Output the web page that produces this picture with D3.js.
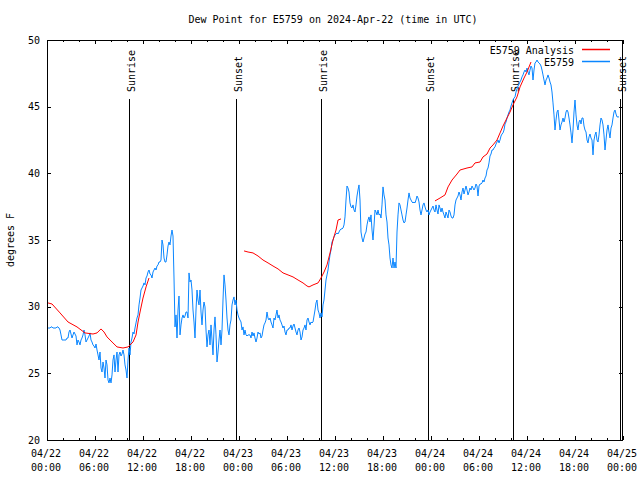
<!DOCTYPE html>
<html><head><meta charset="utf-8">
<script src="https://cdn.jsdelivr.net/npm/d3@7"></script>
<style>
body{margin:0;background:#fff}
svg text{font-family:"DejaVu Sans Mono","Liberation Mono",monospace;font-size:10px;fill:#000}
</style>
</head><body><svg id="c" width="640" height="480"></svg>
<script>
const titleText = "Dew Point for E5759 on 2024-Apr-22 (time in UTC)";
const yLabelText = "degrees F";
const seriesNames = ["E5759 Analysis", "E5759"];
const seriesColors = ["#ff0000", "#0a86ff"];
const yTickValues = [20, 25, 30, 35, 40, 45, 50];
const xTickHours = [0, 6, 12, 18, 24, 30, 36, 42, 48, 54, 60, 66, 72];
const xTickDates = ["04/22","04/22","04/22","04/22","04/23","04/23","04/23","04/23","04/24","04/24","04/24","04/24","04/25"];
const xTickTimes = ["00:00","06:00","12:00","18:00","00:00","06:00","12:00","18:00","00:00","06:00","12:00","18:00","00:00"];
const sunLabels = ["Sunrise","Sunset","Sunrise","Sunset","Sunrise","Sunset"];
const sunHours = [10.27, 23.63, 34.25, 47.63, 58.2, 71.63];

// observations: every 7.5 minutes starting 00:07:30 UTC
const obsFirstHour = 0.125, obsStepHours = 0.125;
const obsValues = [
28.4,28.4,28.4,28.48,28.48,28.4,28.4,28.4,28.4,28.48,
28.48,28.4,28.25,27.88,27.5,27.5,27.5,27.5,27.5,27.65,
27.65,28.1,28.25,27.95,27.65,27.88,28.1,27.95,27.8,27.13,
27.5,27.35,27.13,27.5,27.65,27.88,28.25,27.88,27.35,27.5,
27.65,27.8,28.03,27.5,27.35,27.13,27.05,26.9,27.2,26.75,
26.38,26.0,26.6,25.4,25.1,25.85,25.4,24.65,26.0,25.63,
24.5,24.28,24.65,24.28,24.88,26.0,26.38,25.1,26.0,26.6,
25.1,26.38,26.6,26.3,26.45,26.75,26.38,25.63,25.25,24.65,
26.0,26.9,26.38,27.35,27.65,28.1,27.95,28.4,28.78,29.15,
29.38,30.13,30.65,31.25,31.4,31.55,31.78,31.63,32.15,32.3,
32.6,32.75,32.45,32.38,32.15,32.6,32.75,32.9,32.75,33.05,
33.13,33.35,33.35,33.5,35.0,34.63,33.65,33.35,33.35,33.88,
34.55,34.85,34.63,35.3,35.75,35.3,32.15,28.48,29.38,27.65,
29.75,30.8,27.88,28.63,29.15,29.38,29.15,29.3,29.6,29.6,
29.15,32.53,31.85,32.0,31.25,29.75,28.85,27.65,29.75,31.25,
30.5,30.13,31.25,29.6,28.63,29.75,30.35,29.98,28.25,26.98,
27.88,28.25,27.13,28.63,27.5,26.38,28.25,29.23,27.88,25.85,
26.6,27.5,28.25,27.13,28.25,30.5,32.38,31.63,30.5,29.15,
28.25,27.88,28.63,29.0,30.13,30.5,30.73,30.13,30.5,29.75,
29.38,29.15,29.0,28.85,28.25,28.48,27.88,28.25,27.88,27.8,
27.88,27.88,27.88,27.65,28.1,27.8,28.03,27.65,27.35,27.65,
28.1,27.95,28.03,27.65,27.8,28.25,28.63,28.78,29.0,29.6,
29.15,29.0,29.15,28.85,28.63,28.4,29.15,29.0,29.38,29.75,
29.15,29.38,29.0,28.85,28.63,28.4,28.55,28.1,27.88,28.25,
28.25,28.4,28.4,28.63,28.25,28.55,28.7,28.4,28.1,27.88,
28.25,28.4,28.1,27.5,27.73,28.25,28.4,28.63,28.25,29.0,
29.15,28.85,28.63,28.85,28.78,28.85,29.3,29.75,30.28,30.5,
29.75,29.53,29.15,29.53,29.23,30.13,30.5,31.25,32.0,32.38,
32.75,33.35,33.88,34.25,34.85,35.0,35.23,35.38,35.45,35.53,
35.45,35.6,35.75,35.83,35.83,35.9,36.13,36.73,38.0,39.05,
38.9,38.6,37.78,37.48,37.4,37.63,37.25,37.1,37.63,38.3,
38.75,39.13,38.0,35.6,35.15,34.85,35.15,35.45,35.6,36.13,
36.5,36.73,36.35,36.88,35.75,35.0,36.05,37.25,37.1,36.88,
37.25,36.88,36.95,36.65,37.63,38.98,38.38,38.0,36.88,36.35,
35.15,34.63,33.65,33.13,32.9,33.65,32.9,33.35,32.9,35.6,
36.88,37.78,37.63,37.25,36.88,36.5,36.28,36.35,36.88,37.4,
38.0,38.53,38.15,38.0,37.85,37.78,37.85,37.78,38.0,38.3,
38.15,37.85,37.25,36.88,37.25,37.63,37.78,37.48,37.25,37.1,
37.25,36.88,37.1,37.25,37.4,37.55,37.25,37.1,37.63,37.25,
36.95,37.63,37.4,37.1,37.4,37.1,36.88,36.65,37.1,36.88,
36.65,37.25,37.1,36.8,36.65,36.65,36.88,37.63,38.0,38.15,
38.3,38.6,38.38,38.0,38.6,38.9,38.45,38.75,39.05,38.75,
38.38,38.6,38.9,38.75,39.05,38.9,38.75,38.9,39.2,39.05,
38.3,39.05,39.2,39.2,39.28,39.5,39.35,39.65,39.8,40.25,
40.4,40.78,41.3,41.45,41.75,41.75,41.9,41.98,42.2,42.35,
42.5,42.28,42.5,42.8,42.95,43.03,43.25,43.7,43.85,44.15,
44.38,44.6,44.75,45.05,45.28,45.5,45.65,45.73,46.1,46.33,
46.55,46.7,46.85,47.0,47.23,47.38,47.6,47.75,47.6,47.9,
47.6,47.38,47.75,48.05,47.9,47.0,47.75,48.28,48.35,48.5,
48.35,48.28,48.2,48.05,47.75,47.38,47.0,46.63,47.0,47.15,
47.38,47.15,46.85,46.63,46.1,45.28,44.38,43.25,44.0,44.6,
44.75,44.0,43.25,43.63,43.85,44.15,43.85,44.15,44.6,44.75,
44.6,44.15,43.63,43.03,42.28,43.25,44.6,45.5,44.38,43.63,
43.25,43.85,44.0,43.7,44.15,44.15,43.55,43.25,43.1,42.5,
42.28,42.73,42.95,42.65,42.5,41.38,42.5,42.88,43.1,42.5,
42.35,42.88,43.63,44.15,44.0,43.63,42.88,41.75,42.5,43.25,
43.63,43.1,42.65,43.4,43.63,44.15,44.6,44.75,44.45,44.23,
44.23,44.23
];

// analysis (null = gap)
const analysisHours = [
0.13,0.63,1.63,2.63,3.75,4.75,5.75,6.25,6.75,7.13,7.5,8.13,8.75,9.5,10.13,10.75,11.13,11.38,11.63,12.0,12.38,12.75,
null,
24.63,25.13,25.75,26.38,27.0,27.63,28.25,28.88,29.5,30.13,30.75,31.38,32.0,32.5,32.75,33.25,33.88,34.25,34.63,35.0,35.38,35.75,36.13,36.38,36.75,
null,
48.5,49.13,49.75,50.13,50.63,51.25,51.63,52.5,53.13,53.5,54.13,54.5,55.0,55.38,55.75,56.25,56.63,57.0,57.5,57.88,58.25,58.75,59.13,59.63,60.0,60.5
];
const analysisValues = [
30.28,30.2,29.53,28.85,28.48,28.03,27.95,28.03,28.33,28.1,27.73,27.35,26.98,26.9,26.98,27.35,27.88,28.85,29.6,30.65,31.48,32.15,
null,
34.18,34.1,34.03,33.8,33.5,33.28,33.05,32.83,32.53,32.38,32.23,32.0,31.78,31.55,31.48,31.63,31.78,32.15,32.6,33.13,34.03,35.0,35.75,36.5,36.58,
null,
37.93,38.15,38.38,38.98,39.5,39.95,40.25,40.4,40.48,40.78,40.85,41.23,41.45,41.9,42.13,42.5,43.03,43.55,44.15,44.6,45.13,45.73,46.48,47.15,47.6,48.35
];

const L = 47, R = 623, T = 40, B = 440;
const svg = d3.select("#c");
const x = d3.scaleLinear().domain([0, 72]).range([L, R]);
const y = d3.scaleLinear().domain([20, 50]).range([B, T]);

const minorHours = d3.range(0, 73, 2).filter(h => h % 6 !== 0);

// axes with inward ticks
svg.append("g").attr("transform", `translate(0,${B})`)
  .call(d3.axisBottom(x).tickValues(xTickHours).tickSizeInner(-4).tickSizeOuter(0).tickFormat(""));
svg.append("g").attr("transform", `translate(0,${B})`)
  .call(d3.axisBottom(x).tickValues(minorHours).tickSizeInner(-2).tickSizeOuter(0).tickFormat(""));
svg.append("g").attr("transform", `translate(0,${T})`)
  .call(d3.axisTop(x).tickValues(xTickHours).tickSizeInner(-4).tickSizeOuter(0).tickFormat(""));
svg.append("g").attr("transform", `translate(0,${T})`)
  .call(d3.axisTop(x).tickValues(minorHours).tickSizeInner(-2).tickSizeOuter(0).tickFormat(""));
svg.append("g").attr("transform", `translate(${L},0)`)
  .call(d3.axisLeft(y).tickValues(yTickValues).tickSizeInner(-4).tickSizeOuter(0).tickFormat(""));
svg.append("g").attr("transform", `translate(${R},0)`)
  .call(d3.axisRight(y).tickValues(yTickValues).tickSizeInner(-4).tickSizeOuter(0).tickFormat(""));
svg.selectAll(".domain").remove();
svg.selectAll(".tick line").attr("stroke", "#000").attr("stroke-width", 1).attr("shape-rendering", "crispEdges");

// y tick labels
svg.append("g").selectAll("text").data(yTickValues).join("text")
  .attr("x", 40).attr("y", d => y(d)).attr("dy", "0.35em")
  .attr("text-anchor", "end").text(d => d);

// x tick labels
const xl = svg.append("g").selectAll("text").data(xTickHours).join("text")
  .attr("text-anchor", "middle");
xl.append("tspan").attr("x", d => x(d) - 1).attr("y", 457).text((d, i) => xTickDates[i]);
xl.append("tspan").attr("x", d => x(d) - 1).attr("y", 471).text((d, i) => xTickTimes[i]);

// title & axis label
svg.append("text").attr("x", 333).attr("y", 23).attr("text-anchor", "middle").text(titleText);
svg.append("text").attr("transform", "translate(14,240) rotate(-90)").attr("text-anchor", "middle").text(yLabelText);

// sunrise/sunset lines
svg.append("g").selectAll("line").data(sunHours).join("line")
  .attr("x1", d => Math.round(x(d)) + 0.5).attr("x2", d => Math.round(x(d)) + 0.5)
  .attr("y1", 99).attr("y2", B).attr("stroke", "#000").attr("stroke-width", 1);
svg.append("g").selectAll("text").data(sunHours).join("text")
  .attr("transform", d => `translate(${Math.round(x(d)) + 6},92) rotate(-90)`)
  .attr("text-anchor", "start").text((d, i) => sunLabels[i]);

// series
const obs = obsValues.map((v, i) => ({ h: obsFirstHour + i * obsStepHours, v }));
const ana = analysisHours.map((h, i) => ({ h, v: analysisValues[i] }));
const line = d3.line().defined(d => d.h !== null && d.v !== null).x(d => x(d.h)).y(d => y(d.v));
svg.append("path").datum(obs).attr("d", line).attr("fill", "none")
  .attr("stroke", seriesColors[1]).attr("stroke-width", 1);
svg.append("path").datum(ana).attr("d", line).attr("fill", "none")
  .attr("stroke", seriesColors[0]).attr("stroke-width", 1);

// frame
svg.append("rect").attr("x", L + 0.5).attr("y", T + 0.5).attr("width", R - L - 1).attr("height", B - T)
  .attr("fill", "none").attr("stroke", "#000").attr("stroke-width", 1).attr("shape-rendering", "crispEdges");

// legend
const legY = [50, 62];
const legG = svg.append("g");
seriesNames.forEach((name, k) => {
  legG.append("text").attr("x", 574).attr("y", legY[k]).attr("dy", "0.35em")
    .attr("text-anchor", "end").text(name);
  legG.append("line").attr("x1", 582).attr("x2", 610)
    .attr("y1", legY[k] - 0.5).attr("y2", legY[k] - 0.5)
    .attr("stroke", seriesColors[k]).attr("stroke-width", 1.5);
});
</script></body></html>
